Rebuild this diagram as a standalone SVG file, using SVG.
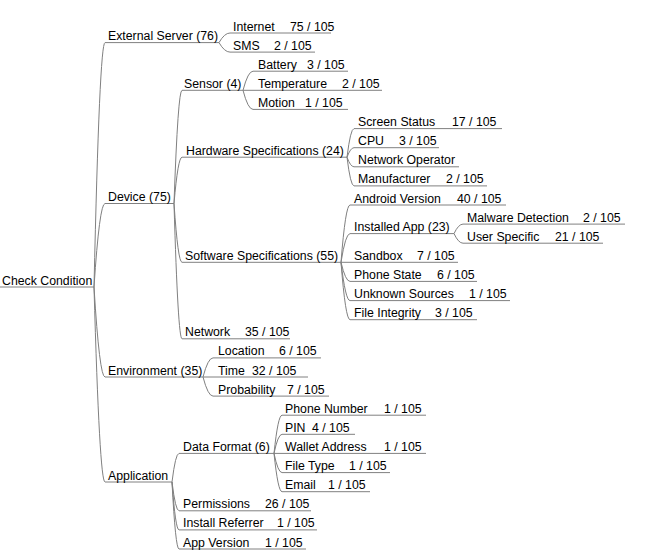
<svg xmlns="http://www.w3.org/2000/svg" width="647" height="559" viewBox="0 0 647 559">
<style>
text{font-family:"Liberation Sans",Arial,sans-serif;font-size:12.3px;fill:#000}
.u,.c{fill:none;stroke:#808080;stroke-width:1}
</style>
<rect width="647" height="559" fill="#fff"/>
<g id="connectors">
<path class="c" d="M94 287Q99.5 42.6 105 42.6M94 287Q99.5 203.5 105 203.5M94 287Q99.5 377 105 377M94 287Q99.5 482 105 482"/>
<path class="c" d="M219 42.6Q224.5 33 230 33M219 42.6Q224.5 52.1 230 52.1"/>
<path class="c" d="M174 203.5Q178 90.3 182 90.3M174 203.5Q178 157.2 182 157.2M174 203.5Q178 262.3 182 262.3M174 203.5Q178 338.8 182 338.8"/>
<path class="c" d="M243 90.3Q248 71.2 253 71.2M243 90.3H253M243 90.3Q248 109.4 253 109.4"/>
<path class="c" d="M347 157.2Q350.5 128.6 354 128.6M347 157.2Q350.5 147.7 354 147.7M347 157.2Q350.5 166.8 354 166.8M347 157.2Q350.5 185.9 354 185.9"/>
<path class="c" d="M341 262.3Q345.5 205 350 205M341 262.3Q345.5 233.6 350 233.6M341 262.3H350M341 262.3Q345.5 281.4 350 281.4M341 262.3Q345.5 300.6 350 300.6M341 262.3Q345.5 319.7 350 319.7"/>
<path class="c" d="M454 233.6Q458.5 224.1 463 224.1M454 233.6Q458.5 243.2 463 243.2"/>
<path class="c" d="M203 377Q208 357.9 213 357.9M203 377H213M203 377Q208 396.1 213 396.1"/>
<path class="c" d="M172 482Q175.5 453.4 179 453.4M172 482Q175.5 510.8 179 510.8M172 482Q175.5 529.9 179 529.9M172 482Q175.5 549 179 549"/>
<path class="c" d="M274 453.4Q278 415.2 282 415.2M274 453.4Q278 434.3 282 434.3M274 453.4H282M274 453.4Q278 472.6 282 472.6M274 453.4Q278 491.7 282 491.7"/>
</g>
<g id="n-root"><path class="u" d="M0 287H94"/><text x="2" y="284.5">Check Condition</text></g>
<g id="n-external"><path class="u" d="M105 42.6H219"/><text x="108" y="40.1">External Server (76)</text></g>
<g id="n-internet"><path class="u" d="M230 33H331"/><text x="233" y="30.5">Internet</text><text x="290" y="30.5">75 / 105</text></g>
<g id="n-sms"><path class="u" d="M230 52.1H315"/><text x="233" y="49.6">SMS</text><text x="274" y="49.6">2 / 105</text></g>
<g id="n-device"><path class="u" d="M105 203.5H174"/><text x="108" y="201">Device (75)</text></g>
<g id="n-sensor"><path class="u" d="M182 90.3H243"/><text x="184" y="87.8">Sensor (4)</text></g>
<g id="n-battery"><path class="u" d="M253 71.2H348"/><text x="258" y="68.7">Battery</text><text x="307" y="68.7">3 / 105</text></g>
<g id="n-temperature"><path class="u" d="M253 90.3H382"/><text x="258" y="87.8">Temperature</text><text x="342" y="87.8">2 / 105</text></g>
<g id="n-motion"><path class="u" d="M253 109.4H348"/><text x="258" y="106.9">Motion</text><text x="305" y="106.9">1 / 105</text></g>
<g id="n-hardware"><path class="u" d="M182 157.2H347"/><text x="186" y="154.7">Hardware Specifications (24)</text></g>
<g id="n-screen"><path class="u" d="M354 128.6H502"/><text x="358" y="126.1">Screen Status</text><text x="452" y="126.1">17 / 105</text></g>
<g id="n-cpu"><path class="u" d="M354 147.7H439"/><text x="358" y="145.2">CPU</text><text x="399" y="145.2">3 / 105</text></g>
<g id="n-netop"><path class="u" d="M354 166.8H459"/><text x="358" y="164.3">Network Operator</text></g>
<g id="n-manufacturer"><path class="u" d="M354 185.9H487"/><text x="358" y="183.4">Manufacturer</text><text x="446" y="183.4">2 / 105</text></g>
<g id="n-software"><path class="u" d="M182 262.3H341"/><text x="185" y="259.8">Software Specifications (55)</text></g>
<g id="n-android"><path class="u" d="M350 205H506"/><text x="354" y="202.5">Android Version</text><text x="457" y="202.5">40 / 105</text></g>
<g id="n-installed"><path class="u" d="M350 233.6H454"/><text x="354" y="231.1">Installed App (23)</text></g>
<g id="n-malware"><path class="u" d="M463 224.1H625"/><text x="467" y="221.6">Malware Detection</text><text x="583" y="221.6">2 / 105</text></g>
<g id="n-user"><path class="u" d="M463 243.2H603"/><text x="467" y="240.7">User Specific</text><text x="555" y="240.7">21 / 105</text></g>
<g id="n-sandbox"><path class="u" d="M350 262.3H458"/><text x="354" y="259.8">Sandbox</text><text x="417" y="259.8">7 / 105</text></g>
<g id="n-phonestate"><path class="u" d="M350 281.4H477"/><text x="354" y="278.9">Phone State</text><text x="437" y="278.9">6 / 105</text></g>
<g id="n-unknown"><path class="u" d="M350 300.6H510"/><text x="354" y="298.1">Unknown Sources</text><text x="469" y="298.1">1 / 105</text></g>
<g id="n-integrity"><path class="u" d="M350 319.7H477"/><text x="354" y="317.2">File Integrity</text><text x="435" y="317.2">3 / 105</text></g>
<g id="n-network"><path class="u" d="M182 338.8H290"/><text x="185" y="336.3">Network</text><text x="245" y="336.3">35 / 105</text></g>
<g id="n-environment"><path class="u" d="M105 377H203"/><text x="108" y="374.5">Environment (35)</text></g>
<g id="n-location"><path class="u" d="M213 357.9H321"/><text x="218" y="355.4">Location</text><text x="279" y="355.4">6 / 105</text></g>
<g id="n-time"><path class="u" d="M213 377H308"/><text x="218" y="374.5">Time</text><text x="252" y="374.5">32 / 105</text></g>
<g id="n-probability"><path class="u" d="M213 396.1H329"/><text x="218" y="393.6">Probability</text><text x="287" y="393.6">7 / 105</text></g>
<g id="n-application"><path class="u" d="M105 482H172"/><text x="108" y="479.5">Application</text></g>
<g id="n-dataformat"><path class="u" d="M179 453.4H274"/><text x="183" y="450.9">Data Format (6)</text></g>
<g id="n-phonenumber"><path class="u" d="M282 415.2H426"/><text x="285" y="412.7">Phone Number</text><text x="384" y="412.7">1 / 105</text></g>
<g id="n-pin"><path class="u" d="M282 434.3H355"/><text x="285" y="431.8">PIN</text><text x="312" y="431.8">4 / 105</text></g>
<g id="n-wallet"><path class="u" d="M282 453.4H426"/><text x="285" y="450.9">Wallet Address</text><text x="384" y="450.9">1 / 105</text></g>
<g id="n-filetype"><path class="u" d="M282 472.6H390"/><text x="285" y="470.1">File Type</text><text x="349" y="470.1">1 / 105</text></g>
<g id="n-email"><path class="u" d="M282 491.7H370"/><text x="285" y="489.2">Email</text><text x="328" y="489.2">1 / 105</text></g>
<g id="n-permissions"><path class="u" d="M179 510.8H311"/><text x="183" y="508.3">Permissions</text><text x="265" y="508.3">26 / 105</text></g>
<g id="n-referrer"><path class="u" d="M179 529.9H317"/><text x="183" y="527.4">Install Referrer</text><text x="277" y="527.4">1 / 105</text></g>
<g id="n-appversion"><path class="u" d="M179 549H306"/><text x="183" y="546.5">App Version</text><text x="265" y="546.5">1 / 105</text></g>
</svg>
